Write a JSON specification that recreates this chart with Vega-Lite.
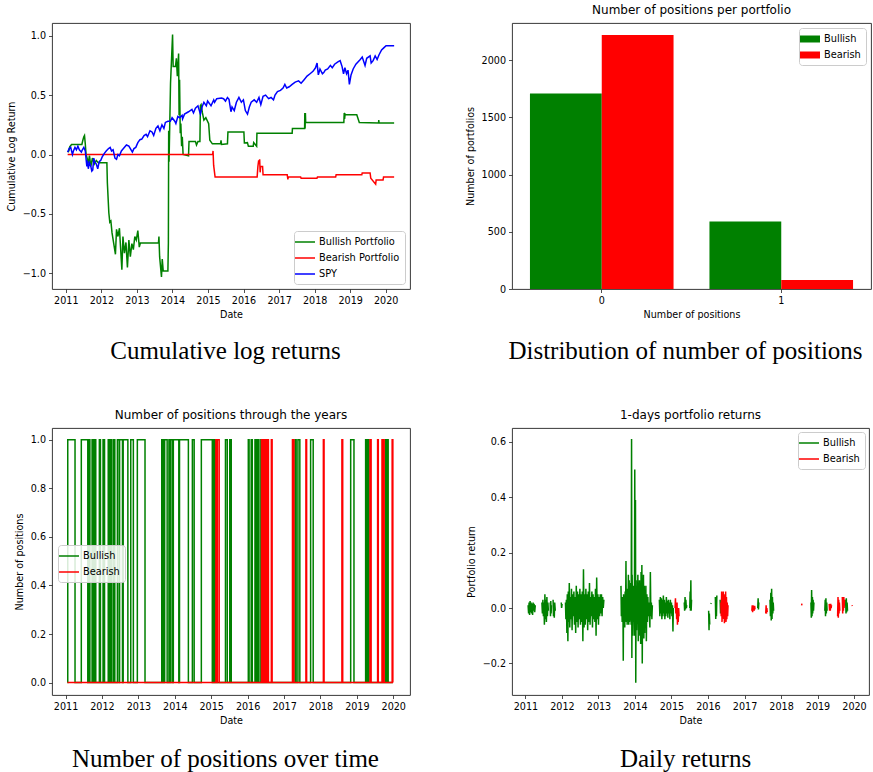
{
  "$schema": "https://vega.github.io/schema/vega-lite/v6.json",
  "background": "white",
  "padding": {"left": 5, "top": 3, "right": 0, "bottom": 0},
  "config": {
    "font": "DejaVu Sans",
    "view": {"stroke": "#222", "strokeWidth": 0.9},
    "axis": {"labelFont": "DejaVu Sans", "labelFontSize": 9.6, "labelColor": "#000", "titleFont": "DejaVu Sans", "titleFontSize": 9.6, "titleFontWeight": "normal", "titleColor": "#000", "tickColor": "#222", "tickSize": 3.5, "tickWidth": 0.8, "domain": false, "grid": false, "labelPadding": 3, "titlePadding": 4, "labelFlush": false, "labelOverlap": false},
    "axisY": {"titlePadding": 6},
    "legend": {"labelFont": "DejaVu Sans", "labelFontSize": 9.8, "labelColor": "#000", "fillColor": "rgba(255,255,255,0.85)", "strokeColor": "#cccccc", "cornerRadius": 3, "padding": 5, "rowPadding": 5, "symbolStrokeWidth": 1.5, "labelOffset": 8, "symbolType": "M-2,0L2,0", "symbolSize": 100},
    "title": {"font": "DejaVu Sans", "fontSize": 12, "fontWeight": "normal", "color": "#000", "offset": 6, "anchor": "middle", "frame": "group"}
  },
  "datasets": {
    "bars": [
      {"n": "0", "p": "Bullish", "c": 1710},
      {"n": "0", "p": "Bearish", "c": 2222},
      {"n": "1", "p": "Bullish", "c": 590},
      {"n": "1", "p": "Bearish", "c": 78}
    ],
    "cum": [
      {"d": "2011-01-20", "v": 0.02, "s": "Bullish Portfolio"},
      {"d": "2011-02-01", "v": 0.03, "s": "Bullish Portfolio"},
      {"d": "2011-02-10", "v": 0.065, "s": "Bullish Portfolio"},
      {"d": "2011-03-01", "v": 0.085, "s": "Bullish Portfolio"},
      {"d": "2011-06-15", "v": 0.085, "s": "Bullish Portfolio"},
      {"d": "2011-06-25", "v": 0.12, "s": "Bullish Portfolio"},
      {"d": "2011-07-05", "v": 0.15, "s": "Bullish Portfolio"},
      {"d": "2011-07-12", "v": 0.16, "s": "Bullish Portfolio"},
      {"d": "2011-07-20", "v": 0.09, "s": "Bullish Portfolio"},
      {"d": "2011-07-28", "v": 0.0, "s": "Bullish Portfolio"},
      {"d": "2011-08-08", "v": -0.03, "s": "Bullish Portfolio"},
      {"d": "2011-08-20", "v": -0.07, "s": "Bullish Portfolio"},
      {"d": "2011-09-01", "v": -0.01, "s": "Bullish Portfolio"},
      {"d": "2011-09-15", "v": -0.1, "s": "Bullish Portfolio"},
      {"d": "2011-10-01", "v": -0.03, "s": "Bullish Portfolio"},
      {"d": "2011-10-20", "v": -0.08, "s": "Bullish Portfolio"},
      {"d": "2011-11-10", "v": -0.05, "s": "Bullish Portfolio"},
      {"d": "2011-12-01", "v": -0.07, "s": "Bullish Portfolio"},
      {"d": "2012-02-27", "v": -0.07, "s": "Bullish Portfolio"},
      {"d": "2012-03-03", "v": -0.24, "s": "Bullish Portfolio"},
      {"d": "2012-03-18", "v": -0.49, "s": "Bullish Portfolio"},
      {"d": "2012-03-28", "v": -0.57, "s": "Bullish Portfolio"},
      {"d": "2012-04-08", "v": -0.56, "s": "Bullish Portfolio"},
      {"d": "2012-04-20", "v": -0.66, "s": "Bullish Portfolio"},
      {"d": "2012-05-25", "v": -0.84, "s": "Bullish Portfolio"},
      {"d": "2012-06-05", "v": -0.63, "s": "Bullish Portfolio"},
      {"d": "2012-06-20", "v": -0.69, "s": "Bullish Portfolio"},
      {"d": "2012-07-05", "v": -0.62, "s": "Bullish Portfolio"},
      {"d": "2012-07-30", "v": -0.97, "s": "Bullish Portfolio"},
      {"d": "2012-08-10", "v": -0.69, "s": "Bullish Portfolio"},
      {"d": "2012-08-25", "v": -0.83, "s": "Bullish Portfolio"},
      {"d": "2012-09-10", "v": -0.74, "s": "Bullish Portfolio"},
      {"d": "2012-09-25", "v": -0.95, "s": "Bullish Portfolio"},
      {"d": "2012-10-10", "v": -0.72, "s": "Bullish Portfolio"},
      {"d": "2012-10-25", "v": -0.86, "s": "Bullish Portfolio"},
      {"d": "2012-11-10", "v": -0.75, "s": "Bullish Portfolio"},
      {"d": "2012-11-25", "v": -0.8, "s": "Bullish Portfolio"},
      {"d": "2012-12-10", "v": -0.69, "s": "Bullish Portfolio"},
      {"d": "2012-12-25", "v": -0.72, "s": "Bullish Portfolio"},
      {"d": "2013-01-10", "v": -0.64, "s": "Bullish Portfolio"},
      {"d": "2013-01-25", "v": -0.78, "s": "Bullish Portfolio"},
      {"d": "2013-02-05", "v": -0.745, "s": "Bullish Portfolio"},
      {"d": "2013-08-10", "v": -0.745, "s": "Bullish Portfolio"},
      {"d": "2013-08-15", "v": -0.69, "s": "Bullish Portfolio"},
      {"d": "2013-08-22", "v": -0.86, "s": "Bullish Portfolio"},
      {"d": "2013-09-10", "v": -1.03, "s": "Bullish Portfolio"},
      {"d": "2013-09-18", "v": -0.88, "s": "Bullish Portfolio"},
      {"d": "2013-09-28", "v": -0.98, "s": "Bullish Portfolio"},
      {"d": "2013-11-15", "v": -0.98, "s": "Bullish Portfolio"},
      {"d": "2013-11-20", "v": -0.745, "s": "Bullish Portfolio"},
      {"d": "2013-11-23", "v": 0.2, "s": "Bullish Portfolio"},
      {"d": "2013-11-27", "v": -0.06, "s": "Bullish Portfolio"},
      {"d": "2013-12-12", "v": 0.6, "s": "Bullish Portfolio"},
      {"d": "2014-01-02", "v": 1.01, "s": "Bullish Portfolio"},
      {"d": "2014-01-08", "v": 0.74, "s": "Bullish Portfolio"},
      {"d": "2014-02-01", "v": 0.74, "s": "Bullish Portfolio"},
      {"d": "2014-02-10", "v": 0.81, "s": "Bullish Portfolio"},
      {"d": "2014-02-20", "v": 0.66, "s": "Bullish Portfolio"},
      {"d": "2014-03-05", "v": 0.85, "s": "Bullish Portfolio"},
      {"d": "2014-03-10", "v": 0.33, "s": "Bullish Portfolio"},
      {"d": "2014-03-15", "v": 0.63, "s": "Bullish Portfolio"},
      {"d": "2014-03-22", "v": 0.18, "s": "Bullish Portfolio"},
      {"d": "2014-03-28", "v": 0.26, "s": "Bullish Portfolio"},
      {"d": "2014-04-05", "v": 0.07, "s": "Bullish Portfolio"},
      {"d": "2014-04-12", "v": 0.15, "s": "Bullish Portfolio"},
      {"d": "2014-04-20", "v": 0.0, "s": "Bullish Portfolio"},
      {"d": "2014-06-15", "v": -0.01, "s": "Bullish Portfolio"},
      {"d": "2014-06-20", "v": 0.11, "s": "Bullish Portfolio"},
      {"d": "2014-08-25", "v": 0.11, "s": "Bullish Portfolio"},
      {"d": "2014-09-05", "v": 0.08, "s": "Bullish Portfolio"},
      {"d": "2014-09-20", "v": 0.11, "s": "Bullish Portfolio"},
      {"d": "2014-10-10", "v": 0.11, "s": "Bullish Portfolio"},
      {"d": "2014-10-15", "v": 0.41, "s": "Bullish Portfolio"},
      {"d": "2014-10-22", "v": 0.42, "s": "Bullish Portfolio"},
      {"d": "2014-11-05", "v": 0.35, "s": "Bullish Portfolio"},
      {"d": "2014-11-20", "v": 0.29, "s": "Bullish Portfolio"},
      {"d": "2014-12-10", "v": 0.31, "s": "Bullish Portfolio"},
      {"d": "2015-01-08", "v": 0.26, "s": "Bullish Portfolio"},
      {"d": "2015-01-20", "v": 0.12, "s": "Bullish Portfolio"},
      {"d": "2015-02-15", "v": 0.09, "s": "Bullish Portfolio"},
      {"d": "2015-05-10", "v": 0.09, "s": "Bullish Portfolio"},
      {"d": "2015-05-15", "v": 0.12, "s": "Bullish Portfolio"},
      {"d": "2015-05-20", "v": 0.085, "s": "Bullish Portfolio"},
      {"d": "2015-07-20", "v": 0.09, "s": "Bullish Portfolio"},
      {"d": "2015-07-25", "v": 0.19, "s": "Bullish Portfolio"},
      {"d": "2016-01-05", "v": 0.19, "s": "Bullish Portfolio"},
      {"d": "2016-01-10", "v": 0.097, "s": "Bullish Portfolio"},
      {"d": "2016-02-10", "v": 0.1, "s": "Bullish Portfolio"},
      {"d": "2016-02-20", "v": 0.07, "s": "Bullish Portfolio"},
      {"d": "2016-04-10", "v": 0.07, "s": "Bullish Portfolio"},
      {"d": "2016-04-15", "v": 0.1, "s": "Bullish Portfolio"},
      {"d": "2016-05-15", "v": 0.07, "s": "Bullish Portfolio"},
      {"d": "2016-05-18", "v": 0.18, "s": "Bullish Portfolio"},
      {"d": "2017-05-15", "v": 0.18, "s": "Bullish Portfolio"},
      {"d": "2017-05-18", "v": 0.22, "s": "Bullish Portfolio"},
      {"d": "2017-09-20", "v": 0.22, "s": "Bullish Portfolio"},
      {"d": "2017-09-22", "v": 0.35, "s": "Bullish Portfolio"},
      {"d": "2017-09-25", "v": 0.22, "s": "Bullish Portfolio"},
      {"d": "2017-09-28", "v": 0.35, "s": "Bullish Portfolio"},
      {"d": "2017-10-01", "v": 0.27, "s": "Bullish Portfolio"},
      {"d": "2018-10-28", "v": 0.27, "s": "Bullish Portfolio"},
      {"d": "2018-11-01", "v": 0.35, "s": "Bullish Portfolio"},
      {"d": "2018-11-05", "v": 0.3, "s": "Bullish Portfolio"},
      {"d": "2018-11-10", "v": 0.34, "s": "Bullish Portfolio"},
      {"d": "2018-11-15", "v": 0.335, "s": "Bullish Portfolio"},
      {"d": "2019-03-10", "v": 0.335, "s": "Bullish Portfolio"},
      {"d": "2019-04-05", "v": 0.27, "s": "Bullish Portfolio"},
      {"d": "2019-10-20", "v": 0.265, "s": "Bullish Portfolio"},
      {"d": "2019-10-22", "v": 0.29, "s": "Bullish Portfolio"},
      {"d": "2019-10-25", "v": 0.265, "s": "Bullish Portfolio"},
      {"d": "2020-03-28", "v": 0.265, "s": "Bullish Portfolio"},
      {"d": "2011-01-20", "v": 0.0, "s": "Bearish Portfolio"},
      {"d": "2015-02-18", "v": 0.0, "s": "Bearish Portfolio"},
      {"d": "2015-02-22", "v": 0.03, "s": "Bearish Portfolio"},
      {"d": "2015-02-28", "v": -0.09, "s": "Bearish Portfolio"},
      {"d": "2015-03-15", "v": -0.19, "s": "Bearish Portfolio"},
      {"d": "2016-05-20", "v": -0.19, "s": "Bearish Portfolio"},
      {"d": "2016-05-28", "v": -0.1, "s": "Bearish Portfolio"},
      {"d": "2016-06-05", "v": -0.05, "s": "Bearish Portfolio"},
      {"d": "2016-06-10", "v": -0.08, "s": "Bearish Portfolio"},
      {"d": "2016-06-15", "v": -0.04, "s": "Bearish Portfolio"},
      {"d": "2016-06-20", "v": -0.15, "s": "Bearish Portfolio"},
      {"d": "2016-06-25", "v": -0.1, "s": "Bearish Portfolio"},
      {"d": "2016-07-15", "v": -0.1, "s": "Bearish Portfolio"},
      {"d": "2016-07-20", "v": -0.17, "s": "Bearish Portfolio"},
      {"d": "2017-03-25", "v": -0.17, "s": "Bearish Portfolio"},
      {"d": "2017-04-01", "v": -0.21, "s": "Bearish Portfolio"},
      {"d": "2017-04-05", "v": -0.19, "s": "Bearish Portfolio"},
      {"d": "2017-08-10", "v": -0.19, "s": "Bearish Portfolio"},
      {"d": "2017-08-15", "v": -0.2, "s": "Bearish Portfolio"},
      {"d": "2018-01-25", "v": -0.2, "s": "Bearish Portfolio"},
      {"d": "2018-01-30", "v": -0.19, "s": "Bearish Portfolio"},
      {"d": "2018-08-05", "v": -0.19, "s": "Bearish Portfolio"},
      {"d": "2018-08-10", "v": -0.17, "s": "Bearish Portfolio"},
      {"d": "2019-05-01", "v": -0.17, "s": "Bearish Portfolio"},
      {"d": "2019-05-05", "v": -0.155, "s": "Bearish Portfolio"},
      {"d": "2019-07-25", "v": -0.155, "s": "Bearish Portfolio"},
      {"d": "2019-08-01", "v": -0.2, "s": "Bearish Portfolio"},
      {"d": "2019-09-20", "v": -0.25, "s": "Bearish Portfolio"},
      {"d": "2019-09-25", "v": -0.215, "s": "Bearish Portfolio"},
      {"d": "2019-12-05", "v": -0.215, "s": "Bearish Portfolio"},
      {"d": "2019-12-10", "v": -0.19, "s": "Bearish Portfolio"},
      {"d": "2020-03-28", "v": -0.19, "s": "Bearish Portfolio"},
      {"d": "2011-01-20", "v": 0.02, "s": "SPY"},
      {"d": "2011-02-05", "v": 0.05, "s": "SPY"},
      {"d": "2011-02-20", "v": 0.06, "s": "SPY"},
      {"d": "2011-03-10", "v": 0.0, "s": "SPY"},
      {"d": "2011-03-20", "v": 0.03, "s": "SPY"},
      {"d": "2011-04-05", "v": 0.06, "s": "SPY"},
      {"d": "2011-04-20", "v": 0.04, "s": "SPY"},
      {"d": "2011-05-05", "v": 0.07, "s": "SPY"},
      {"d": "2011-05-20", "v": 0.04, "s": "SPY"},
      {"d": "2011-06-10", "v": 0.02, "s": "SPY"},
      {"d": "2011-06-20", "v": 0.04, "s": "SPY"},
      {"d": "2011-07-05", "v": 0.06, "s": "SPY"},
      {"d": "2011-07-20", "v": 0.03, "s": "SPY"},
      {"d": "2011-08-05", "v": -0.1, "s": "SPY"},
      {"d": "2011-08-12", "v": -0.05, "s": "SPY"},
      {"d": "2011-08-20", "v": -0.12, "s": "SPY"},
      {"d": "2011-09-01", "v": -0.07, "s": "SPY"},
      {"d": "2011-09-15", "v": -0.1, "s": "SPY"},
      {"d": "2011-09-25", "v": -0.14, "s": "SPY"},
      {"d": "2011-10-05", "v": -0.13, "s": "SPY"},
      {"d": "2011-10-15", "v": -0.03, "s": "SPY"},
      {"d": "2011-10-25", "v": -0.06, "s": "SPY"},
      {"d": "2011-11-10", "v": -0.08, "s": "SPY"},
      {"d": "2011-11-25", "v": -0.12, "s": "SPY"},
      {"d": "2011-12-10", "v": -0.06, "s": "SPY"},
      {"d": "2011-12-25", "v": -0.05, "s": "SPY"},
      {"d": "2012-01-10", "v": -0.02, "s": "SPY"},
      {"d": "2012-02-01", "v": 0.01, "s": "SPY"},
      {"d": "2012-02-20", "v": 0.03, "s": "SPY"},
      {"d": "2012-03-15", "v": 0.05, "s": "SPY"},
      {"d": "2012-04-01", "v": 0.06, "s": "SPY"},
      {"d": "2012-04-15", "v": 0.03, "s": "SPY"},
      {"d": "2012-05-01", "v": 0.04, "s": "SPY"},
      {"d": "2012-05-20", "v": -0.03, "s": "SPY"},
      {"d": "2012-06-05", "v": -0.04, "s": "SPY"},
      {"d": "2012-06-20", "v": 0.0, "s": "SPY"},
      {"d": "2012-07-05", "v": -0.01, "s": "SPY"},
      {"d": "2012-07-25", "v": 0.03, "s": "SPY"},
      {"d": "2012-08-15", "v": 0.05, "s": "SPY"},
      {"d": "2012-09-15", "v": 0.08, "s": "SPY"},
      {"d": "2012-10-10", "v": 0.07, "s": "SPY"},
      {"d": "2012-11-15", "v": 0.02, "s": "SPY"},
      {"d": "2012-12-01", "v": 0.05, "s": "SPY"},
      {"d": "2012-12-20", "v": 0.06, "s": "SPY"},
      {"d": "2013-01-10", "v": 0.1, "s": "SPY"},
      {"d": "2013-02-01", "v": 0.125, "s": "SPY"},
      {"d": "2013-02-20", "v": 0.13, "s": "SPY"},
      {"d": "2013-03-15", "v": 0.16, "s": "SPY"},
      {"d": "2013-04-05", "v": 0.17, "s": "SPY"},
      {"d": "2013-04-20", "v": 0.15, "s": "SPY"},
      {"d": "2013-05-15", "v": 0.2, "s": "SPY"},
      {"d": "2013-06-05", "v": 0.19, "s": "SPY"},
      {"d": "2013-06-22", "v": 0.16, "s": "SPY"},
      {"d": "2013-07-15", "v": 0.22, "s": "SPY"},
      {"d": "2013-08-05", "v": 0.24, "s": "SPY"},
      {"d": "2013-08-25", "v": 0.2, "s": "SPY"},
      {"d": "2013-09-15", "v": 0.25, "s": "SPY"},
      {"d": "2013-10-05", "v": 0.22, "s": "SPY"},
      {"d": "2013-10-20", "v": 0.27, "s": "SPY"},
      {"d": "2013-11-15", "v": 0.28, "s": "SPY"},
      {"d": "2013-12-10", "v": 0.28, "s": "SPY"},
      {"d": "2013-12-28", "v": 0.31, "s": "SPY"},
      {"d": "2014-01-25", "v": 0.28, "s": "SPY"},
      {"d": "2014-02-05", "v": 0.26, "s": "SPY"},
      {"d": "2014-02-25", "v": 0.32, "s": "SPY"},
      {"d": "2014-03-15", "v": 0.31, "s": "SPY"},
      {"d": "2014-04-10", "v": 0.33, "s": "SPY"},
      {"d": "2014-04-15", "v": 0.3, "s": "SPY"},
      {"d": "2014-05-05", "v": 0.34, "s": "SPY"},
      {"d": "2014-06-15", "v": 0.36, "s": "SPY"},
      {"d": "2014-07-20", "v": 0.38, "s": "SPY"},
      {"d": "2014-08-05", "v": 0.35, "s": "SPY"},
      {"d": "2014-08-25", "v": 0.39, "s": "SPY"},
      {"d": "2014-09-20", "v": 0.41, "s": "SPY"},
      {"d": "2014-10-15", "v": 0.34, "s": "SPY"},
      {"d": "2014-11-01", "v": 0.4, "s": "SPY"},
      {"d": "2014-11-20", "v": 0.44, "s": "SPY"},
      {"d": "2014-12-15", "v": 0.41, "s": "SPY"},
      {"d": "2014-12-28", "v": 0.45, "s": "SPY"},
      {"d": "2015-01-15", "v": 0.43, "s": "SPY"},
      {"d": "2015-02-01", "v": 0.41, "s": "SPY"},
      {"d": "2015-03-01", "v": 0.46, "s": "SPY"},
      {"d": "2015-03-10", "v": 0.44, "s": "SPY"},
      {"d": "2015-04-01", "v": 0.47, "s": "SPY"},
      {"d": "2015-05-20", "v": 0.475, "s": "SPY"},
      {"d": "2015-06-10", "v": 0.47, "s": "SPY"},
      {"d": "2015-06-30", "v": 0.45, "s": "SPY"},
      {"d": "2015-07-20", "v": 0.48, "s": "SPY"},
      {"d": "2015-08-05", "v": 0.465, "s": "SPY"},
      {"d": "2015-08-25", "v": 0.36, "s": "SPY"},
      {"d": "2015-09-05", "v": 0.4, "s": "SPY"},
      {"d": "2015-09-28", "v": 0.37, "s": "SPY"},
      {"d": "2015-10-20", "v": 0.44, "s": "SPY"},
      {"d": "2015-11-15", "v": 0.48, "s": "SPY"},
      {"d": "2015-12-10", "v": 0.44, "s": "SPY"},
      {"d": "2015-12-31", "v": 0.46, "s": "SPY"},
      {"d": "2016-01-20", "v": 0.37, "s": "SPY"},
      {"d": "2016-02-11", "v": 0.34, "s": "SPY"},
      {"d": "2016-03-01", "v": 0.4, "s": "SPY"},
      {"d": "2016-03-20", "v": 0.44, "s": "SPY"},
      {"d": "2016-04-20", "v": 0.46, "s": "SPY"},
      {"d": "2016-05-15", "v": 0.44, "s": "SPY"},
      {"d": "2016-06-08", "v": 0.48, "s": "SPY"},
      {"d": "2016-06-27", "v": 0.42, "s": "SPY"},
      {"d": "2016-07-20", "v": 0.49, "s": "SPY"},
      {"d": "2016-08-15", "v": 0.5, "s": "SPY"},
      {"d": "2016-09-15", "v": 0.47, "s": "SPY"},
      {"d": "2016-10-10", "v": 0.48, "s": "SPY"},
      {"d": "2016-11-04", "v": 0.46, "s": "SPY"},
      {"d": "2016-11-20", "v": 0.5, "s": "SPY"},
      {"d": "2016-12-15", "v": 0.53, "s": "SPY"},
      {"d": "2017-01-15", "v": 0.54, "s": "SPY"},
      {"d": "2017-02-10", "v": 0.56, "s": "SPY"},
      {"d": "2017-03-01", "v": 0.59, "s": "SPY"},
      {"d": "2017-03-20", "v": 0.56, "s": "SPY"},
      {"d": "2017-04-15", "v": 0.57, "s": "SPY"},
      {"d": "2017-05-15", "v": 0.59, "s": "SPY"},
      {"d": "2017-06-15", "v": 0.61, "s": "SPY"},
      {"d": "2017-07-20", "v": 0.62, "s": "SPY"},
      {"d": "2017-08-15", "v": 0.6, "s": "SPY"},
      {"d": "2017-09-15", "v": 0.63, "s": "SPY"},
      {"d": "2017-10-15", "v": 0.66, "s": "SPY"},
      {"d": "2017-11-15", "v": 0.68, "s": "SPY"},
      {"d": "2017-12-15", "v": 0.7, "s": "SPY"},
      {"d": "2018-01-10", "v": 0.73, "s": "SPY"},
      {"d": "2018-01-26", "v": 0.77, "s": "SPY"},
      {"d": "2018-02-08", "v": 0.67, "s": "SPY"},
      {"d": "2018-02-25", "v": 0.72, "s": "SPY"},
      {"d": "2018-03-22", "v": 0.68, "s": "SPY"},
      {"d": "2018-04-05", "v": 0.69, "s": "SPY"},
      {"d": "2018-04-20", "v": 0.71, "s": "SPY"},
      {"d": "2018-05-15", "v": 0.72, "s": "SPY"},
      {"d": "2018-06-12", "v": 0.75, "s": "SPY"},
      {"d": "2018-07-01", "v": 0.73, "s": "SPY"},
      {"d": "2018-07-25", "v": 0.76, "s": "SPY"},
      {"d": "2018-08-28", "v": 0.78, "s": "SPY"},
      {"d": "2018-09-20", "v": 0.79, "s": "SPY"},
      {"d": "2018-10-10", "v": 0.74, "s": "SPY"},
      {"d": "2018-10-25", "v": 0.68, "s": "SPY"},
      {"d": "2018-11-08", "v": 0.73, "s": "SPY"},
      {"d": "2018-11-25", "v": 0.68, "s": "SPY"},
      {"d": "2018-12-10", "v": 0.71, "s": "SPY"},
      {"d": "2018-12-24", "v": 0.59, "s": "SPY"},
      {"d": "2019-01-10", "v": 0.67, "s": "SPY"},
      {"d": "2019-02-01", "v": 0.72, "s": "SPY"},
      {"d": "2019-03-01", "v": 0.76, "s": "SPY"},
      {"d": "2019-04-15", "v": 0.8, "s": "SPY"},
      {"d": "2019-05-05", "v": 0.82, "s": "SPY"},
      {"d": "2019-06-03", "v": 0.75, "s": "SPY"},
      {"d": "2019-06-20", "v": 0.81, "s": "SPY"},
      {"d": "2019-07-25", "v": 0.83, "s": "SPY"},
      {"d": "2019-08-05", "v": 0.77, "s": "SPY"},
      {"d": "2019-08-25", "v": 0.79, "s": "SPY"},
      {"d": "2019-09-15", "v": 0.83, "s": "SPY"},
      {"d": "2019-10-05", "v": 0.8, "s": "SPY"},
      {"d": "2019-10-25", "v": 0.84, "s": "SPY"},
      {"d": "2019-11-20", "v": 0.88, "s": "SPY"},
      {"d": "2019-12-15", "v": 0.9, "s": "SPY"},
      {"d": "2020-01-05", "v": 0.916, "s": "SPY"},
      {"d": "2020-03-28", "v": 0.916, "s": "SPY"}
    ],
    "pos": [
      {"d": "2011-01-20", "v": 0, "s": "Bullish"},
      {"d": "2011-01-23", "v": 1, "s": "Bullish"}, {"d": "2011-04-06", "v": 0, "s": "Bullish"},
      {"d": "2011-06-08", "v": 1, "s": "Bullish"}, {"d": "2011-08-12", "v": 0, "s": "Bullish"},
      {"d": "2011-08-26", "v": 1, "s": "Bullish"}, {"d": "2011-09-02", "v": 0, "s": "Bullish"},
      {"d": "2011-09-24", "v": 1, "s": "Bullish"}, {"d": "2011-10-05", "v": 0, "s": "Bullish"},
      {"d": "2011-10-20", "v": 1, "s": "Bullish"}, {"d": "2011-10-31", "v": 0, "s": "Bullish"},
      {"d": "2011-12-06", "v": 1, "s": "Bullish"}, {"d": "2011-12-17", "v": 0, "s": "Bullish"},
      {"d": "2012-01-12", "v": 1, "s": "Bullish"}, {"d": "2012-01-27", "v": 0, "s": "Bullish"},
      {"d": "2012-03-04", "v": 1, "s": "Bullish"}, {"d": "2012-03-11", "v": 0, "s": "Bullish"},
      {"d": "2012-03-26", "v": 1, "s": "Bullish"}, {"d": "2012-04-10", "v": 0, "s": "Bullish"},
      {"d": "2012-04-28", "v": 1, "s": "Bullish"}, {"d": "2012-05-09", "v": 0, "s": "Bullish"},
      {"d": "2012-06-04", "v": 1, "s": "Bullish"}, {"d": "2012-06-22", "v": 0, "s": "Bullish"},
      {"d": "2012-06-26", "v": 1, "s": "Bullish"}, {"d": "2012-07-25", "v": 0, "s": "Bullish"},
      {"d": "2012-08-01", "v": 1, "s": "Bullish"}, {"d": "2012-09-17", "v": 0, "s": "Bullish"},
      {"d": "2012-10-16", "v": 1, "s": "Bullish"}, {"d": "2012-11-11", "v": 0, "s": "Bullish"},
      {"d": "2012-12-21", "v": 1, "s": "Bullish"}, {"d": "2013-03-08", "v": 0, "s": "Bullish"},
      {"d": "2013-08-23", "v": 1, "s": "Bullish"}, {"d": "2013-08-30", "v": 0, "s": "Bullish"},
      {"d": "2013-09-06", "v": 1, "s": "Bullish"}, {"d": "2013-09-13", "v": 0, "s": "Bullish"},
      {"d": "2013-09-21", "v": 1, "s": "Bullish"}, {"d": "2013-10-16", "v": 0, "s": "Bullish"},
      {"d": "2013-11-03", "v": 1, "s": "Bullish"}, {"d": "2013-11-11", "v": 0, "s": "Bullish"},
      {"d": "2013-11-18", "v": 1, "s": "Bullish"}, {"d": "2013-12-06", "v": 0, "s": "Bullish"},
      {"d": "2013-12-17", "v": 1, "s": "Bullish"}, {"d": "2014-02-10", "v": 0, "s": "Bullish"},
      {"d": "2014-02-17", "v": 1, "s": "Bullish"}, {"d": "2014-05-17", "v": 0, "s": "Bullish"},
      {"d": "2014-06-26", "v": 1, "s": "Bullish"}, {"d": "2014-07-14", "v": 0, "s": "Bullish"},
      {"d": "2014-09-24", "v": 1, "s": "Bullish"}, {"d": "2015-01-12", "v": 0, "s": "Bullish"},
      {"d": "2015-01-19", "v": 1, "s": "Bullish"}, {"d": "2015-01-30", "v": 0, "s": "Bullish"},
      {"d": "2015-02-06", "v": 1, "s": "Bullish"}, {"d": "2015-02-14", "v": 0, "s": "Bullish"},
      {"d": "2015-05-24", "v": 1, "s": "Bullish"}, {"d": "2015-06-11", "v": 0, "s": "Bullish"},
      {"d": "2015-07-06", "v": 1, "s": "Bullish"}, {"d": "2015-07-21", "v": 0, "s": "Bullish"},
      {"d": "2016-01-08", "v": 1, "s": "Bullish"}, {"d": "2016-01-16", "v": 0, "s": "Bullish"},
      {"d": "2016-02-06", "v": 1, "s": "Bullish"}, {"d": "2016-02-17", "v": 0, "s": "Bullish"},
      {"d": "2016-03-15", "v": 1, "s": "Bullish"}, {"d": "2016-03-26", "v": 0, "s": "Bullish"},
      {"d": "2016-04-10", "v": 1, "s": "Bullish"}, {"d": "2016-04-24", "v": 0, "s": "Bullish"},
      {"d": "2016-05-13", "v": 1, "s": "Bullish"}, {"d": "2016-05-28", "v": 0, "s": "Bullish"},
      {"d": "2016-06-15", "v": 1, "s": "Bullish"}, {"d": "2016-06-22", "v": 0, "s": "Bullish"},
      {"d": "2017-04-21", "v": 1, "s": "Bullish"}, {"d": "2017-05-02", "v": 0, "s": "Bullish"},
      {"d": "2017-05-20", "v": 1, "s": "Bullish"}, {"d": "2017-06-08", "v": 0, "s": "Bullish"},
      {"d": "2017-09-24", "v": 1, "s": "Bullish"}, {"d": "2017-10-20", "v": 0, "s": "Bullish"},
      {"d": "2018-10-31", "v": 1, "s": "Bullish"}, {"d": "2018-12-03", "v": 0, "s": "Bullish"},
      {"d": "2019-03-30", "v": 1, "s": "Bullish"}, {"d": "2019-04-10", "v": 0, "s": "Bullish"},
      {"d": "2019-04-17", "v": 1, "s": "Bullish"}, {"d": "2019-05-02", "v": 0, "s": "Bullish"},
      {"d": "2019-10-16", "v": 1, "s": "Bullish"}, {"d": "2019-10-24", "v": 0, "s": "Bullish"},
      {"d": "2019-10-31", "v": 1, "s": "Bullish"}, {"d": "2019-11-11", "v": 0, "s": "Bullish"},
      {"d": "2019-12-28", "v": 0, "s": "Bullish"},
      {"d": "2011-01-20", "v": 0, "s": "Bearish"},
      {"d": "2015-02-17", "v": 1, "s": "Bearish"}, {"d": "2015-02-25", "v": 0, "s": "Bearish"},
      {"d": "2015-03-04", "v": 1, "s": "Bearish"}, {"d": "2015-03-22", "v": 0, "s": "Bearish"},
      {"d": "2016-05-20", "v": 1, "s": "Bearish"}, {"d": "2016-05-31", "v": 0, "s": "Bearish"},
      {"d": "2016-06-08", "v": 1, "s": "Bearish"}, {"d": "2016-06-15", "v": 0, "s": "Bearish"},
      {"d": "2016-06-22", "v": 1, "s": "Bearish"}, {"d": "2016-07-06", "v": 0, "s": "Bearish"},
      {"d": "2016-07-14", "v": 1, "s": "Bearish"}, {"d": "2016-07-28", "v": 0, "s": "Bearish"},
      {"d": "2016-08-26", "v": 1, "s": "Bearish"}, {"d": "2016-09-03", "v": 0, "s": "Bearish"},
      {"d": "2017-03-26", "v": 1, "s": "Bearish"}, {"d": "2017-04-10", "v": 0, "s": "Bearish"},
      {"d": "2017-08-08", "v": 1, "s": "Bearish"}, {"d": "2017-08-15", "v": 0, "s": "Bearish"},
      {"d": "2018-01-30", "v": 1, "s": "Bearish"}, {"d": "2018-02-06", "v": 0, "s": "Bearish"},
      {"d": "2018-08-04", "v": 1, "s": "Bearish"}, {"d": "2018-08-12", "v": 0, "s": "Bearish"},
      {"d": "2019-05-13", "v": 1, "s": "Bearish"}, {"d": "2019-05-24", "v": 0, "s": "Bearish"},
      {"d": "2019-07-28", "v": 1, "s": "Bearish"}, {"d": "2019-08-04", "v": 0, "s": "Bearish"},
      {"d": "2019-09-10", "v": 1, "s": "Bearish"}, {"d": "2019-09-17", "v": 0, "s": "Bearish"},
      {"d": "2019-09-24", "v": 1, "s": "Bearish"}, {"d": "2019-10-02", "v": 0, "s": "Bearish"},
      {"d": "2019-12-21", "v": 1, "s": "Bearish"}, {"d": "2019-12-28", "v": 0, "s": "Bearish"}
    ],
    "ret": [
      {"d": "2011-01-28", "v": 0.01, "s": "Bullish", "g": 1}, {"d": "2011-02-02", "v": -0.02, "s": "Bullish", "g": 1}, {"d": "2011-02-07", "v": 0.02, "s": "Bullish", "g": 1}, {"d": "2011-02-12", "v": -0.025, "s": "Bullish", "g": 1}, {"d": "2011-02-17", "v": 0.025, "s": "Bullish", "g": 1}, {"d": "2011-02-22", "v": -0.015, "s": "Bullish", "g": 1}, {"d": "2011-02-27", "v": 0.02, "s": "Bullish", "g": 1}, {"d": "2011-03-04", "v": -0.02, "s": "Bullish", "g": 1}, {"d": "2011-03-09", "v": 0.015, "s": "Bullish", "g": 1}, {"d": "2011-03-14", "v": -0.025, "s": "Bullish", "g": 1}, {"d": "2011-03-19", "v": 0.02, "s": "Bullish", "g": 1}, {"d": "2011-03-24", "v": -0.01, "s": "Bullish", "g": 1}, {"d": "2011-03-29", "v": 0.015, "s": "Bullish", "g": 1}, {"d": "2011-04-04", "v": -0.015, "s": "Bullish", "g": 1}, {"d": "2011-04-10", "v": 0.01, "s": "Bullish", "g": 1},
      {"d": "2011-06-15", "v": 0.02, "s": "Bullish", "g": 2}, {"d": "2011-06-20", "v": -0.02, "s": "Bullish", "g": 2}, {"d": "2011-06-25", "v": 0.03, "s": "Bullish", "g": 2}, {"d": "2011-06-30", "v": -0.03, "s": "Bullish", "g": 2}, {"d": "2011-07-05", "v": 0.02, "s": "Bullish", "g": 2}, {"d": "2011-07-10", "v": -0.06, "s": "Bullish", "g": 2}, {"d": "2011-07-15", "v": 0.05, "s": "Bullish", "g": 2}, {"d": "2011-07-20", "v": -0.04, "s": "Bullish", "g": 2}, {"d": "2011-07-25", "v": 0.03, "s": "Bullish", "g": 2}, {"d": "2011-07-30", "v": -0.05, "s": "Bullish", "g": 2}, {"d": "2011-08-04", "v": 0.04, "s": "Bullish", "g": 2}, {"d": "2011-08-09", "v": -0.03, "s": "Bullish", "g": 2}, {"d": "2011-08-14", "v": 0.02, "s": "Bullish", "g": 2}, {"d": "2011-08-19", "v": -0.01, "s": "Bullish", "g": 2},
      {"d": "2011-09-06", "v": 0.02, "s": "Bullish", "g": 3}, {"d": "2011-09-09", "v": -0.03, "s": "Bullish", "g": 3}, {"d": "2011-09-12", "v": 0.025, "s": "Bullish", "g": 3}, {"d": "2011-09-15", "v": -0.02, "s": "Bullish", "g": 3}, {"d": "2011-09-19", "v": 0.01, "s": "Bullish", "g": 3},
      {"d": "2011-10-05", "v": 0.03, "s": "Bullish", "g": 4}, {"d": "2011-10-09", "v": -0.03, "s": "Bullish", "g": 4}, {"d": "2011-10-13", "v": 0.02, "s": "Bullish", "g": 4}, {"d": "2011-10-17", "v": -0.035, "s": "Bullish", "g": 4}, {"d": "2011-10-21", "v": 0.02, "s": "Bullish", "g": 4}, {"d": "2011-10-27", "v": -0.01, "s": "Bullish", "g": 4},
      {"d": "2011-12-26", "v": 0.02, "s": "Bullish", "g": 5}, {"d": "2011-12-29", "v": 0.0, "s": "Bullish", "g": 5}, {"d": "2012-01-03", "v": 0.015, "s": "Bullish", "g": 5},
      {"d": "2012-02-06", "v": 0.02, "s": "Bullish", "g": 6}, {"d": "2012-02-10", "v": -0.04, "s": "Bullish", "g": 6}, {"d": "2012-02-15", "v": 0.03, "s": "Bullish", "g": 6}, {"d": "2012-02-20", "v": -0.09, "s": "Bullish", "g": 6}, {"d": "2012-02-24", "v": 0.05, "s": "Bullish", "g": 6}, {"d": "2012-03-01", "v": -0.12, "s": "Bullish", "g": 6}, {"d": "2012-03-05", "v": 0.06, "s": "Bullish", "g": 6}, {"d": "2012-03-10", "v": -0.05, "s": "Bullish", "g": 6}, {"d": "2012-03-15", "v": 0.09, "s": "Bullish", "g": 6}, {"d": "2012-03-20", "v": -0.07, "s": "Bullish", "g": 6}, {"d": "2012-03-26", "v": 0.04, "s": "Bullish", "g": 6}, {"d": "2012-04-01", "v": -0.04, "s": "Bullish", "g": 6}, {"d": "2012-04-06", "v": 0.07, "s": "Bullish", "g": 6}, {"d": "2012-04-12", "v": -0.08, "s": "Bullish", "g": 6}, {"d": "2012-04-18", "v": 0.05, "s": "Bullish", "g": 6}, {"d": "2012-04-24", "v": -0.03, "s": "Bullish", "g": 6}, {"d": "2012-04-30", "v": 0.06, "s": "Bullish", "g": 6}, {"d": "2012-05-06", "v": -0.06, "s": "Bullish", "g": 6}, {"d": "2012-05-12", "v": 0.04, "s": "Bullish", "g": 6}, {"d": "2012-05-18", "v": -0.09, "s": "Bullish", "g": 6}, {"d": "2012-05-24", "v": 0.08, "s": "Bullish", "g": 6}, {"d": "2012-05-30", "v": -0.05, "s": "Bullish", "g": 6}, {"d": "2012-06-05", "v": 0.06, "s": "Bullish", "g": 6}, {"d": "2012-06-11", "v": -0.07, "s": "Bullish", "g": 6}, {"d": "2012-06-17", "v": 0.05, "s": "Bullish", "g": 6}, {"d": "2012-06-23", "v": -0.04, "s": "Bullish", "g": 6}, {"d": "2012-06-29", "v": 0.07, "s": "Bullish", "g": 6}, {"d": "2012-07-05", "v": -0.06, "s": "Bullish", "g": 6}, {"d": "2012-07-11", "v": 0.05, "s": "Bullish", "g": 6}, {"d": "2012-07-17", "v": -0.05, "s": "Bullish", "g": 6}, {"d": "2012-07-23", "v": 0.06, "s": "Bullish", "g": 6}, {"d": "2012-07-29", "v": -0.12, "s": "Bullish", "g": 6}, {"d": "2012-08-04", "v": 0.14, "s": "Bullish", "g": 6}, {"d": "2012-08-10", "v": -0.07, "s": "Bullish", "g": 6}, {"d": "2012-08-16", "v": 0.05, "s": "Bullish", "g": 6}, {"d": "2012-08-22", "v": -0.06, "s": "Bullish", "g": 6}, {"d": "2012-08-28", "v": 0.07, "s": "Bullish", "g": 6}, {"d": "2012-09-03", "v": -0.04, "s": "Bullish", "g": 6}, {"d": "2012-09-09", "v": 0.05, "s": "Bullish", "g": 6}, {"d": "2012-09-15", "v": -0.08, "s": "Bullish", "g": 6}, {"d": "2012-09-21", "v": 0.06, "s": "Bullish", "g": 6}, {"d": "2012-09-27", "v": -0.05, "s": "Bullish", "g": 6}, {"d": "2012-10-03", "v": 0.09, "s": "Bullish", "g": 6}, {"d": "2012-10-09", "v": -0.06, "s": "Bullish", "g": 6}, {"d": "2012-10-15", "v": 0.04, "s": "Bullish", "g": 6}, {"d": "2012-10-21", "v": -0.03, "s": "Bullish", "g": 6}, {"d": "2012-10-27", "v": 0.06, "s": "Bullish", "g": 6}, {"d": "2012-11-02", "v": -0.07, "s": "Bullish", "g": 6}, {"d": "2012-11-08", "v": 0.05, "s": "Bullish", "g": 6}, {"d": "2012-11-14", "v": -0.04, "s": "Bullish", "g": 6}, {"d": "2012-11-20", "v": 0.04, "s": "Bullish", "g": 6}, {"d": "2012-11-26", "v": -0.05, "s": "Bullish", "g": 6}, {"d": "2012-12-02", "v": 0.07, "s": "Bullish", "g": 6}, {"d": "2012-12-08", "v": -0.1, "s": "Bullish", "g": 6}, {"d": "2012-12-14", "v": 0.11, "s": "Bullish", "g": 6}, {"d": "2012-12-20", "v": -0.04, "s": "Bullish", "g": 6}, {"d": "2012-12-26", "v": 0.05, "s": "Bullish", "g": 6}, {"d": "2013-01-01", "v": -0.06, "s": "Bullish", "g": 6}, {"d": "2013-01-07", "v": 0.04, "s": "Bullish", "g": 6}, {"d": "2013-01-13", "v": -0.03, "s": "Bullish", "g": 6}, {"d": "2013-01-19", "v": 0.05, "s": "Bullish", "g": 6}, {"d": "2013-01-25", "v": -0.02, "s": "Bullish", "g": 6}, {"d": "2013-01-31", "v": 0.05, "s": "Bullish", "g": 6}, {"d": "2013-02-06", "v": -0.03, "s": "Bullish", "g": 6}, {"d": "2013-02-12", "v": 0.04, "s": "Bullish", "g": 6}, {"d": "2013-02-18", "v": 0.0, "s": "Bullish", "g": 6}, {"d": "2013-02-24", "v": 0.03, "s": "Bullish", "g": 6},
      {"d": "2013-08-14", "v": 0.08, "s": "Bullish", "g": 7}, {"d": "2013-08-18", "v": -0.03, "s": "Bullish", "g": 7}, {"d": "2013-08-22", "v": 0.03, "s": "Bullish", "g": 7}, {"d": "2013-08-26", "v": -0.05, "s": "Bullish", "g": 7}, {"d": "2013-08-30", "v": 0.04, "s": "Bullish", "g": 7}, {"d": "2013-09-03", "v": -0.02, "s": "Bullish", "g": 7}, {"d": "2013-09-06", "v": -0.19, "s": "Bullish", "g": 7}, {"d": "2013-09-09", "v": 0.05, "s": "Bullish", "g": 7}, {"d": "2013-09-13", "v": -0.03, "s": "Bullish", "g": 7}, {"d": "2013-09-17", "v": 0.03, "s": "Bullish", "g": 7}, {"d": "2013-09-21", "v": -0.07, "s": "Bullish", "g": 7}, {"d": "2013-09-25", "v": 0.06, "s": "Bullish", "g": 7}, {"d": "2013-09-29", "v": -0.02, "s": "Bullish", "g": 7}, {"d": "2013-10-03", "v": 0.17, "s": "Bullish", "g": 7}, {"d": "2013-10-07", "v": -0.05, "s": "Bullish", "g": 7}, {"d": "2013-10-11", "v": 0.04, "s": "Bullish", "g": 7}, {"d": "2013-10-15", "v": -0.06, "s": "Bullish", "g": 7}, {"d": "2013-10-19", "v": 0.07, "s": "Bullish", "g": 7}, {"d": "2013-10-23", "v": -0.03, "s": "Bullish", "g": 7}, {"d": "2013-10-27", "v": 0.12, "s": "Bullish", "g": 7}, {"d": "2013-10-31", "v": -0.06, "s": "Bullish", "g": 7}, {"d": "2013-11-04", "v": 0.1, "s": "Bullish", "g": 7}, {"d": "2013-11-08", "v": -0.05, "s": "Bullish", "g": 7}, {"d": "2013-11-12", "v": 0.05, "s": "Bullish", "g": 7}, {"d": "2013-11-16", "v": -0.04, "s": "Bullish", "g": 7}, {"d": "2013-11-20", "v": 0.09, "s": "Bullish", "g": 7}, {"d": "2013-11-24", "v": -0.06, "s": "Bullish", "g": 7}, {"d": "2013-11-28", "v": 0.61, "s": "Bullish", "g": 7}, {"d": "2013-12-01", "v": -0.18, "s": "Bullish", "g": 7}, {"d": "2013-12-04", "v": 0.12, "s": "Bullish", "g": 7}, {"d": "2013-12-08", "v": -0.1, "s": "Bullish", "g": 7}, {"d": "2013-12-12", "v": 0.08, "s": "Bullish", "g": 7}, {"d": "2013-12-16", "v": -0.05, "s": "Bullish", "g": 7}, {"d": "2013-12-21", "v": 0.06, "s": "Bullish", "g": 7}, {"d": "2013-12-26", "v": -0.1, "s": "Bullish", "g": 7}, {"d": "2013-12-30", "v": 0.5, "s": "Bullish", "g": 7}, {"d": "2014-01-02", "v": -0.05, "s": "Bullish", "g": 7}, {"d": "2014-01-06", "v": 0.39, "s": "Bullish", "g": 7}, {"d": "2014-01-09", "v": -0.27, "s": "Bullish", "g": 7}, {"d": "2014-01-13", "v": 0.1, "s": "Bullish", "g": 7}, {"d": "2014-01-17", "v": -0.08, "s": "Bullish", "g": 7}, {"d": "2014-01-21", "v": 0.06, "s": "Bullish", "g": 7}, {"d": "2014-01-25", "v": -0.03, "s": "Bullish", "g": 7}, {"d": "2014-01-30", "v": 0.12, "s": "Bullish", "g": 7}, {"d": "2014-02-03", "v": -0.12, "s": "Bullish", "g": 7}, {"d": "2014-02-07", "v": 0.05, "s": "Bullish", "g": 7}, {"d": "2014-02-11", "v": -0.06, "s": "Bullish", "g": 7}, {"d": "2014-02-15", "v": 0.1, "s": "Bullish", "g": 7}, {"d": "2014-02-19", "v": -0.1, "s": "Bullish", "g": 7}, {"d": "2014-02-23", "v": 0.07, "s": "Bullish", "g": 7}, {"d": "2014-02-27", "v": -0.13, "s": "Bullish", "g": 7}, {"d": "2014-03-03", "v": 0.13, "s": "Bullish", "g": 7}, {"d": "2014-03-07", "v": -0.08, "s": "Bullish", "g": 7}, {"d": "2014-03-11", "v": 0.155, "s": "Bullish", "g": 7}, {"d": "2014-03-15", "v": -0.2, "s": "Bullish", "g": 7}, {"d": "2014-03-19", "v": 0.1, "s": "Bullish", "g": 7}, {"d": "2014-03-23", "v": -0.05, "s": "Bullish", "g": 7}, {"d": "2014-03-27", "v": 0.12, "s": "Bullish", "g": 7}, {"d": "2014-03-31", "v": -0.11, "s": "Bullish", "g": 7}, {"d": "2014-04-04", "v": 0.08, "s": "Bullish", "g": 7}, {"d": "2014-04-08", "v": -0.09, "s": "Bullish", "g": 7}, {"d": "2014-04-12", "v": 0.06, "s": "Bullish", "g": 7}, {"d": "2014-04-16", "v": -0.07, "s": "Bullish", "g": 7}, {"d": "2014-04-20", "v": 0.08, "s": "Bullish", "g": 7}, {"d": "2014-04-25", "v": -0.12, "s": "Bullish", "g": 7}, {"d": "2014-04-30", "v": 0.05, "s": "Bullish", "g": 7}, {"d": "2014-05-05", "v": -0.05, "s": "Bullish", "g": 7}, {"d": "2014-05-10", "v": 0.04, "s": "Bullish", "g": 7}, {"d": "2014-05-15", "v": -0.03, "s": "Bullish", "g": 7}, {"d": "2014-05-20", "v": 0.02, "s": "Bullish", "g": 7}, {"d": "2014-05-30", "v": -0.07, "s": "Bullish", "g": 7}, {"d": "2014-06-04", "v": 0.13, "s": "Bullish", "g": 7}, {"d": "2014-06-09", "v": -0.03, "s": "Bullish", "g": 7}, {"d": "2014-06-14", "v": 0.02, "s": "Bullish", "g": 7}, {"d": "2014-06-19", "v": -0.04, "s": "Bullish", "g": 7}, {"d": "2014-06-24", "v": 0.01, "s": "Bullish", "g": 7},
      {"d": "2014-09-02", "v": 0.03, "s": "Bullish", "g": 8}, {"d": "2014-09-07", "v": -0.03, "s": "Bullish", "g": 8}, {"d": "2014-09-12", "v": 0.04, "s": "Bullish", "g": 8}, {"d": "2014-09-17", "v": -0.02, "s": "Bullish", "g": 8}, {"d": "2014-09-22", "v": 0.035, "s": "Bullish", "g": 8}, {"d": "2014-09-27", "v": -0.04, "s": "Bullish", "g": 8}, {"d": "2014-10-02", "v": 0.03, "s": "Bullish", "g": 8}, {"d": "2014-10-07", "v": -0.03, "s": "Bullish", "g": 8}, {"d": "2014-10-12", "v": 0.045, "s": "Bullish", "g": 8}, {"d": "2014-10-17", "v": -0.02, "s": "Bullish", "g": 8}, {"d": "2014-10-22", "v": 0.03, "s": "Bullish", "g": 8}, {"d": "2014-10-27", "v": -0.04, "s": "Bullish", "g": 8}, {"d": "2014-11-01", "v": 0.02, "s": "Bullish", "g": 8}, {"d": "2014-11-06", "v": -0.03, "s": "Bullish", "g": 8}, {"d": "2014-11-11", "v": 0.04, "s": "Bullish", "g": 8}, {"d": "2014-11-16", "v": -0.02, "s": "Bullish", "g": 8}, {"d": "2014-11-21", "v": 0.025, "s": "Bullish", "g": 8}, {"d": "2014-11-26", "v": -0.035, "s": "Bullish", "g": 8}, {"d": "2014-12-01", "v": 0.03, "s": "Bullish", "g": 8}, {"d": "2014-12-06", "v": -0.02, "s": "Bullish", "g": 8}, {"d": "2014-12-11", "v": 0.02, "s": "Bullish", "g": 8}, {"d": "2014-12-16", "v": -0.04, "s": "Bullish", "g": 8}, {"d": "2014-12-21", "v": 0.03, "s": "Bullish", "g": 8}, {"d": "2014-12-26", "v": -0.02, "s": "Bullish", "g": 8}, {"d": "2015-01-01", "v": 0.02, "s": "Bullish", "g": 8}, {"d": "2015-01-06", "v": -0.03, "s": "Bullish", "g": 8}, {"d": "2015-01-11", "v": 0.01, "s": "Bullish", "g": 8}, {"d": "2015-01-16", "v": -0.085, "s": "Bullish", "g": 8}, {"d": "2015-01-20", "v": 0.0, "s": "Bullish", "g": 8},
      {"d": "2015-05-09", "v": 0.02, "s": "Bullish", "g": 9}, {"d": "2015-05-13", "v": -0.01, "s": "Bullish", "g": 9}, {"d": "2015-05-17", "v": 0.04, "s": "Bullish", "g": 9}, {"d": "2015-05-21", "v": -0.005, "s": "Bullish", "g": 9}, {"d": "2015-05-25", "v": 0.03, "s": "Bullish", "g": 9}, {"d": "2015-05-30", "v": 0.0, "s": "Bullish", "g": 9}, {"d": "2015-06-03", "v": 0.01, "s": "Bullish", "g": 9},
      {"d": "2015-07-03", "v": 0.0, "s": "Bullish", "g": 10}, {"d": "2015-07-07", "v": 0.06, "s": "Bullish", "g": 10}, {"d": "2015-07-10", "v": -0.01, "s": "Bullish", "g": 10}, {"d": "2015-07-14", "v": 0.1, "s": "Bullish", "g": 10}, {"d": "2015-07-17", "v": -0.01, "s": "Bullish", "g": 10}, {"d": "2015-07-21", "v": 0.03, "s": "Bullish", "g": 10},
      {"d": "2016-01-08", "v": -0.01, "s": "Bullish", "g": 11}, {"d": "2016-01-12", "v": -0.08, "s": "Bullish", "g": 11}, {"d": "2016-01-15", "v": -0.02, "s": "Bullish", "g": 11}, {"d": "2016-01-19", "v": -0.06, "s": "Bullish", "g": 11},
      {"d": "2016-01-30", "v": 0.015, "s": "Bullish", "g": 12}, {"d": "2016-02-02", "v": 0.018, "s": "Bullish", "g": 12},
      {"d": "2016-03-15", "v": 0.04, "s": "Bullish", "g": 13}, {"d": "2016-03-19", "v": -0.04, "s": "Bullish", "g": 13}, {"d": "2016-03-22", "v": 0.03, "s": "Bullish", "g": 13}, {"d": "2016-03-26", "v": -0.03, "s": "Bullish", "g": 13}, {"d": "2016-03-30", "v": 0.045, "s": "Bullish", "g": 13},
      {"d": "2016-05-02", "v": 0.03, "s": "Bullish", "g": 14}, {"d": "2016-05-06", "v": -0.02, "s": "Bullish", "g": 14}, {"d": "2016-05-09", "v": 0.02, "s": "Bullish", "g": 14}, {"d": "2016-05-13", "v": -0.01, "s": "Bullish", "g": 14},
      {"d": "2017-05-13", "v": 0.0, "s": "Bullish", "g": 15}, {"d": "2017-05-17", "v": 0.035, "s": "Bullish", "g": 15}, {"d": "2017-05-20", "v": -0.005, "s": "Bullish", "g": 15}, {"d": "2017-05-24", "v": 0.02, "s": "Bullish", "g": 15},
      {"d": "2017-09-13", "v": 0.03, "s": "Bullish", "g": 16}, {"d": "2017-09-17", "v": -0.03, "s": "Bullish", "g": 16}, {"d": "2017-09-21", "v": 0.055, "s": "Bullish", "g": 16}, {"d": "2017-09-25", "v": -0.045, "s": "Bullish", "g": 16}, {"d": "2017-09-29", "v": 0.07, "s": "Bullish", "g": 16}, {"d": "2017-10-03", "v": -0.04, "s": "Bullish", "g": 16}, {"d": "2017-10-07", "v": 0.04, "s": "Bullish", "g": 16}, {"d": "2017-10-11", "v": -0.02, "s": "Bullish", "g": 16}, {"d": "2017-10-15", "v": 0.02, "s": "Bullish", "g": 16}, {"d": "2017-10-19", "v": -0.01, "s": "Bullish", "g": 16},
      {"d": "2018-10-27", "v": 0.02, "s": "Bullish", "g": 17}, {"d": "2018-10-31", "v": -0.035, "s": "Bullish", "g": 17}, {"d": "2018-11-03", "v": 0.065, "s": "Bullish", "g": 17}, {"d": "2018-11-07", "v": -0.03, "s": "Bullish", "g": 17}, {"d": "2018-11-11", "v": 0.04, "s": "Bullish", "g": 17}, {"d": "2018-11-14", "v": -0.02, "s": "Bullish", "g": 17}, {"d": "2018-11-18", "v": 0.03, "s": "Bullish", "g": 17}, {"d": "2018-11-22", "v": -0.01, "s": "Bullish", "g": 17}, {"d": "2018-11-26", "v": 0.02, "s": "Bullish", "g": 17},
      {"d": "2019-03-15", "v": -0.01, "s": "Bullish", "g": 18}, {"d": "2019-03-19", "v": 0.03, "s": "Bullish", "g": 18}, {"d": "2019-03-22", "v": -0.03, "s": "Bullish", "g": 18}, {"d": "2019-03-26", "v": 0.035, "s": "Bullish", "g": 18}, {"d": "2019-03-30", "v": -0.02, "s": "Bullish", "g": 18}, {"d": "2019-04-03", "v": 0.02, "s": "Bullish", "g": 18}, {"d": "2019-04-07", "v": -0.01, "s": "Bullish", "g": 18},
      {"d": "2019-10-09", "v": 0.03, "s": "Bullish", "g": 19}, {"d": "2019-10-13", "v": -0.02, "s": "Bullish", "g": 19}, {"d": "2019-10-16", "v": 0.035, "s": "Bullish", "g": 19}, {"d": "2019-10-20", "v": -0.015, "s": "Bullish", "g": 19}, {"d": "2019-10-24", "v": 0.02, "s": "Bullish", "g": 19}, {"d": "2019-10-28", "v": -0.01, "s": "Bullish", "g": 19},
      {"d": "2015-02-06", "v": 0.0, "s": "Bearish", "g": 21}, {"d": "2015-02-10", "v": 0.035, "s": "Bearish", "g": 21}, {"d": "2015-02-14", "v": -0.02, "s": "Bearish", "g": 21}, {"d": "2015-02-18", "v": 0.01, "s": "Bearish", "g": 21}, {"d": "2015-02-22", "v": -0.04, "s": "Bearish", "g": 21}, {"d": "2015-02-26", "v": 0.02, "s": "Bearish", "g": 21}, {"d": "2015-03-02", "v": -0.06, "s": "Bearish", "g": 21}, {"d": "2015-03-06", "v": -0.01, "s": "Bearish", "g": 21}, {"d": "2015-03-10", "v": -0.05, "s": "Bearish", "g": 21}, {"d": "2015-03-14", "v": 0.0, "s": "Bearish", "g": 21}, {"d": "2015-03-18", "v": -0.03, "s": "Bearish", "g": 21},
      {"d": "2016-05-09", "v": 0.02, "s": "Bearish", "g": 22}, {"d": "2016-05-13", "v": -0.03, "s": "Bearish", "g": 22}, {"d": "2016-05-17", "v": 0.06, "s": "Bearish", "g": 22}, {"d": "2016-05-21", "v": -0.05, "s": "Bearish", "g": 22}, {"d": "2016-05-25", "v": 0.05, "s": "Bearish", "g": 22}, {"d": "2016-05-29", "v": -0.02, "s": "Bearish", "g": 22}, {"d": "2016-06-02", "v": 0.06, "s": "Bearish", "g": 22}, {"d": "2016-06-06", "v": -0.04, "s": "Bearish", "g": 22}, {"d": "2016-06-10", "v": 0.03, "s": "Bearish", "g": 22}, {"d": "2016-06-14", "v": -0.055, "s": "Bearish", "g": 22}, {"d": "2016-06-18", "v": 0.05, "s": "Bearish", "g": 22}, {"d": "2016-06-22", "v": -0.03, "s": "Bearish", "g": 22}, {"d": "2016-06-26", "v": 0.06, "s": "Bearish", "g": 22}, {"d": "2016-06-30", "v": -0.05, "s": "Bearish", "g": 22}, {"d": "2016-07-04", "v": 0.04, "s": "Bearish", "g": 22}, {"d": "2016-07-08", "v": -0.04, "s": "Bearish", "g": 22}, {"d": "2016-07-12", "v": 0.02, "s": "Bearish", "g": 22}, {"d": "2016-07-16", "v": -0.03, "s": "Bearish", "g": 22}, {"d": "2016-07-20", "v": 0.01, "s": "Bearish", "g": 22},
      {"d": "2017-03-15", "v": -0.01, "s": "Bearish", "g": 23}, {"d": "2017-03-19", "v": 0.01, "s": "Bearish", "g": 23}, {"d": "2017-03-23", "v": -0.015, "s": "Bearish", "g": 23}, {"d": "2017-03-27", "v": 0.01, "s": "Bearish", "g": 23}, {"d": "2017-03-31", "v": -0.01, "s": "Bearish", "g": 23}, {"d": "2017-04-04", "v": 0.005, "s": "Bearish", "g": 23}, {"d": "2017-04-08", "v": -0.01, "s": "Bearish", "g": 23}, {"d": "2017-04-12", "v": 0.008, "s": "Bearish", "g": 23}, {"d": "2017-04-16", "v": -0.005, "s": "Bearish", "g": 23},
      {"d": "2017-08-01", "v": -0.02, "s": "Bearish", "g": 24}, {"d": "2017-08-05", "v": 0.01, "s": "Bearish", "g": 24}, {"d": "2017-08-08", "v": -0.02, "s": "Bearish", "g": 24}, {"d": "2017-08-12", "v": 0.0, "s": "Bearish", "g": 24}, {"d": "2017-08-16", "v": -0.015, "s": "Bearish", "g": 24},
      {"d": "2018-07-26", "v": 0.01, "s": "Bearish", "g": 25}, {"d": "2018-07-29", "v": 0.016, "s": "Bearish", "g": 25},
      {"d": "2019-04-28", "v": 0.015, "s": "Bearish", "g": 26}, {"d": "2019-05-02", "v": -0.01, "s": "Bearish", "g": 26}, {"d": "2019-05-06", "v": 0.01, "s": "Bearish", "g": 26}, {"d": "2019-05-09", "v": -0.01, "s": "Bearish", "g": 26}, {"d": "2019-05-13", "v": 0.015, "s": "Bearish", "g": 26}, {"d": "2019-05-17", "v": 0.0, "s": "Bearish", "g": 26}, {"d": "2019-05-21", "v": 0.01, "s": "Bearish", "g": 26},
      {"d": "2019-07-21", "v": -0.03, "s": "Bearish", "g": 27}, {"d": "2019-07-25", "v": 0.04, "s": "Bearish", "g": 27}, {"d": "2019-07-28", "v": -0.035, "s": "Bearish", "g": 27}, {"d": "2019-08-01", "v": 0.03, "s": "Bearish", "g": 27}, {"d": "2019-08-04", "v": -0.02, "s": "Bearish", "g": 27}, {"d": "2019-08-08", "v": 0.02, "s": "Bearish", "g": 27}, {"d": "2019-08-12", "v": -0.01, "s": "Bearish", "g": 27},
      {"d": "2019-09-06", "v": 0.04, "s": "Bearish", "g": 28}, {"d": "2019-09-10", "v": -0.02, "s": "Bearish", "g": 28}, {"d": "2019-09-13", "v": 0.035, "s": "Bearish", "g": 28}, {"d": "2019-09-17", "v": -0.01, "s": "Bearish", "g": 28}, {"d": "2019-09-21", "v": 0.04, "s": "Bearish", "g": 28}, {"d": "2019-09-24", "v": 0.0, "s": "Bearish", "g": 28}, {"d": "2019-09-28", "v": 0.03, "s": "Bearish", "g": 28},
      {"d": "2019-12-12", "v": 0.01, "s": "Bearish", "g": 29}, {"d": "2019-12-15", "v": 0.007, "s": "Bearish", "g": 29}
    ]
  },
  "resolve": {"scale": {"color": "independent"}, "legend": {"color": "independent"}},
  "bounds": "flush",
  "columns": 2,
  "spacing": {"row": 139, "column": 102},
  "concat": [
    {
      "width": 358, "height": 266,
      "encoding": {
        "y": {"field": "v", "type": "quantitative", "title": "Cumulative Log Return", "scale": {"domain": [-1.132, 1.107], "nice": false, "zero": false}, "axis": {"values": [-1, -0.5, 0, 0.5, 1], "format": ".1f"}},
        "color": {"field": "s", "type": "nominal", "scale": {"domain": ["Bullish Portfolio", "Bearish Portfolio", "SPY"], "range": ["green", "red", "blue"]}, "legend": {"title": null, "orient": "bottom-right", "offset": 5}}
      },
      "resolve": {"axis": {"x": "independent"}},
      "layer": [
        {
          "data": {"name": "cum"},
          "transform": [{"filter": "datum.s != 'SPY'"}],
          "mark": {"type": "line", "strokeWidth": 1.5},
          "encoding": {
            "x": {"field": "d", "type": "temporal", "title": "Date", "scale": {"domain": [{"year": 2010, "month": 8, "date": 12}, {"year": 2020, "month": 9, "date": 7}], "nice": false}, "axis": {"format": "%Y", "tickCount": {"interval": "year", "step": 1}}}
          }
        },
        {
          "data": {"name": "cum"},
          "transform": [{"filter": "datum.s == 'SPY'"}],
          "mark": {"type": "line", "strokeWidth": 1.5},
          "encoding": {
            "x": {"field": "d", "type": "temporal", "scale": {"domain": [{"year": 2010, "month": 8, "date": 12}, {"year": 2020, "month": 9, "date": 7}], "nice": false}, "axis": {"title": "Cumulative log returns", "labels": false, "ticks": false, "domain": false, "grid": false, "titleFont": "Liberation Serif", "titleFontSize": 25, "titleFontWeight": "normal", "titleColor": "#000", "titleX": 173, "titleY": 335, "titleAlign": "center", "titleBaseline": "alphabetic"}}
          }
        }
      ]
    },
    {
      "width": 359, "height": 266,
      "title": {"text": "Number of positions per portfolio"},
      "data": {"name": "bars"},
      "encoding": {
        "xOffset": {"field": "p", "type": "nominal", "scale": {"domain": ["Bullish", "Bearish"], "paddingInner": 0, "paddingOuter": 0}},
        "y": {"field": "c", "type": "quantitative", "title": "Number of portfolios", "scale": {"domain": [0, 2326], "nice": false}, "axis": {"values": [0, 500, 1000, 1500, 2000], "format": "d"}},
        "color": {"field": "p", "type": "nominal", "scale": {"domain": ["Bullish", "Bearish"], "range": ["green", "red"]}, "legend": {"title": null, "orient": "top-right", "offset": 5, "symbolType": "M-2,-0.7L2,-0.7L2,0.7L-2,0.7Z", "symbolSize": 100}}
      },
      "resolve": {"axis": {"x": "independent"}},
      "layer": [
        {
          "transform": [{"filter": "datum.p == 'Bullish'"}],
          "mark": {"type": "bar"},
          "encoding": {
            "x": {"field": "n", "type": "nominal", "title": "Number of positions", "scale": {"paddingInner": 0.2, "paddingOuter": 0.1}, "axis": {"labelAngle": 0}}
          }
        },
        {
          "transform": [{"filter": "datum.p == 'Bearish'"}],
          "mark": {"type": "bar"},
          "encoding": {
            "x": {"field": "n", "type": "nominal", "scale": {"paddingInner": 0.2, "paddingOuter": 0.1}, "axis": {"title": "Distribution of number of positions", "labels": false, "ticks": false, "domain": false, "grid": false, "titleFont": "Liberation Serif", "titleFontSize": 25, "titleFontWeight": "normal", "titleColor": "#000", "titleX": 173, "titleY": 335, "titleAlign": "center", "titleBaseline": "alphabetic"}}
          }
        }
      ]
    },
    {
      "width": 358, "height": 267,
      "title": {"text": "Number of positions through the years"},
      "data": {"name": "pos"},
      "encoding": {
        "y": {"field": "v", "type": "quantitative", "title": "Number of positions", "scale": {"domain": [-0.051, 1.048], "nice": false, "zero": false}, "axis": {"values": [0, 0.2, 0.4, 0.6, 0.8, 1.0], "format": ".1f"}},
        "color": {"field": "s", "type": "nominal", "scale": {"domain": ["Bullish", "Bearish"], "range": ["green", "red"]}, "legend": {"title": null, "orient": "none", "legendX": 6, "legendY": 117}}
      },
      "resolve": {"axis": {"x": "independent"}},
      "layer": [
        {
          "transform": [{"filter": "datum.s == 'Bullish'"}],
          "mark": {"type": "line", "interpolate": "step-after", "strokeWidth": 1.5},
          "encoding": {
            "x": {"field": "d", "type": "temporal", "title": "Date", "scale": {"domain": [{"year": 2010, "month": 8, "date": 18}, {"year": 2020, "month": 6, "date": 17}], "nice": false}, "axis": {"format": "%Y", "tickCount": {"interval": "year", "step": 1}}}
          }
        },
        {
          "transform": [{"filter": "datum.s == 'Bearish'"}],
          "mark": {"type": "line", "interpolate": "step-after", "strokeWidth": 1.5},
          "encoding": {
            "x": {"field": "d", "type": "temporal", "scale": {"domain": [{"year": 2010, "month": 8, "date": 18}, {"year": 2020, "month": 6, "date": 17}], "nice": false}, "axis": {"title": "Number of positions over time", "labels": false, "ticks": false, "domain": false, "grid": false, "titleFont": "Liberation Serif", "titleFontSize": 25, "titleFontWeight": "normal", "titleColor": "#000", "titleX": 173, "titleY": 338, "titleAlign": "center", "titleBaseline": "alphabetic"}}
          }
        }
      ]
    },
    {
      "width": 357, "height": 267,
      "title": {"text": "1-days portfolio returns"},
      "data": {"name": "ret"},
      "encoding": {
        "y": {"field": "v", "type": "quantitative", "title": "Portfolio return", "scale": {"domain": [-0.314, 0.65], "nice": false, "zero": false}, "axis": {"values": [-0.2, 0, 0.2, 0.4, 0.6], "format": ".1f"}},
        "color": {"field": "s", "type": "nominal", "scale": {"domain": ["Bullish", "Bearish"], "range": ["green", "red"]}, "legend": {"title": null, "orient": "top-right", "offset": 4}},
        "detail": {"field": "g", "type": "nominal"}
      },
      "resolve": {"axis": {"x": "independent"}},
      "layer": [
        {
          "transform": [{"filter": "datum.s == 'Bullish'"}],
          "mark": {"type": "line", "strokeWidth": 1.5},
          "encoding": {
            "x": {"field": "d", "type": "temporal", "title": "Date", "scale": {"domain": [{"year": 2010, "month": 8, "date": 20}, {"year": 2020, "month": 5, "date": 30}], "nice": false}, "axis": {"format": "%Y", "tickCount": {"interval": "year", "step": 1}}}
          }
        },
        {
          "transform": [{"filter": "datum.s == 'Bearish'"}],
          "mark": {"type": "line", "strokeWidth": 1.5},
          "encoding": {
            "x": {"field": "d", "type": "temporal", "scale": {"domain": [{"year": 2010, "month": 8, "date": 20}, {"year": 2020, "month": 5, "date": 30}], "nice": false}, "axis": {"title": "Daily returns", "labels": false, "ticks": false, "domain": false, "grid": false, "titleFont": "Liberation Serif", "titleFontSize": 25, "titleFontWeight": "normal", "titleColor": "#000", "titleX": 173, "titleY": 338, "titleAlign": "center", "titleBaseline": "alphabetic"}}
          }
        }
      ]
    }
  ]
}
